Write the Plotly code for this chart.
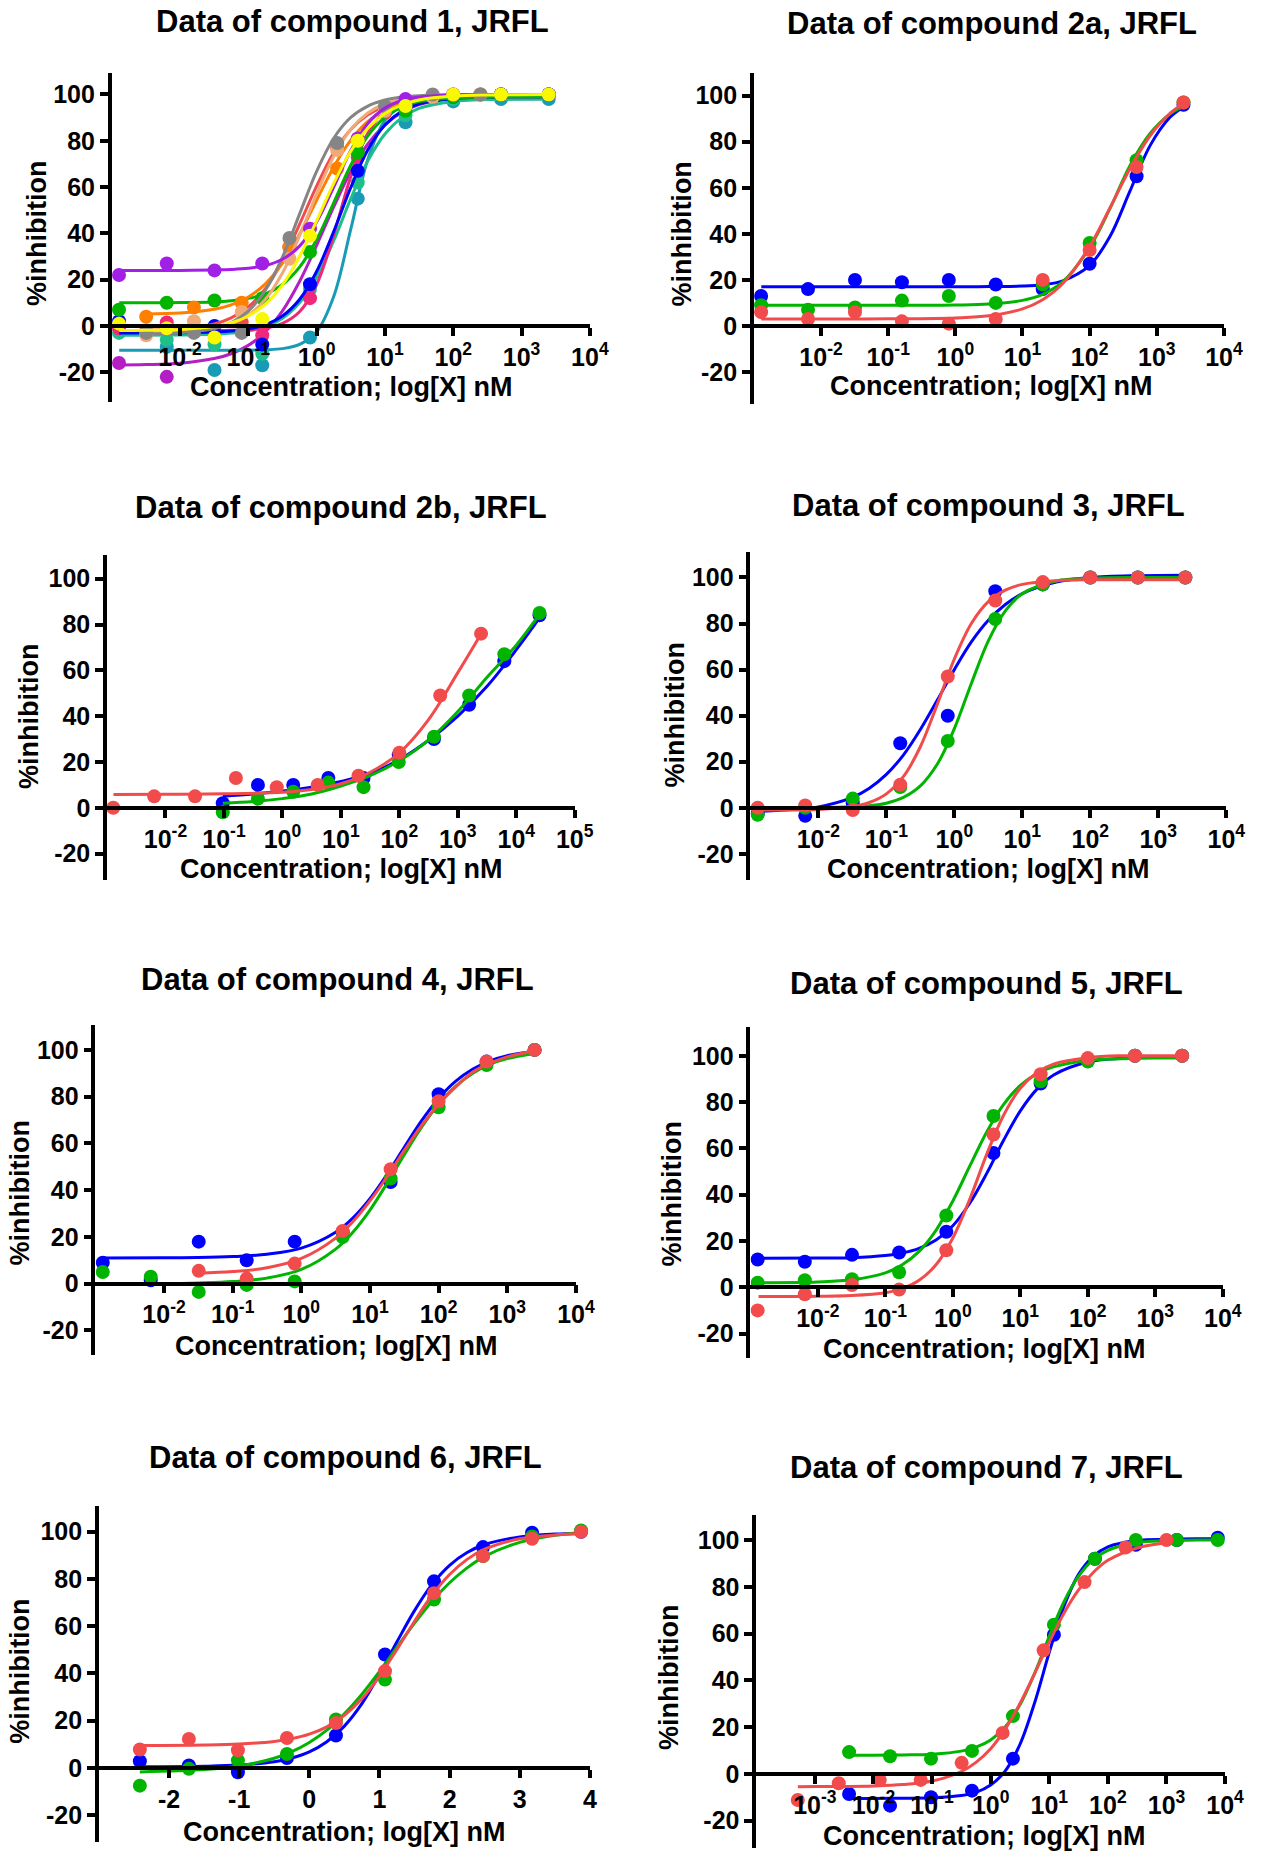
import plotly.graph_objects as go

FONT = "Liberation Sans, Arial, Helvetica, sans-serif"
W, H = 1279, 1852
S = W / 1083.0  # layout coordinates below were measured on a 1083-wide copy

# ------------------------------------------------------------------ colours
BLUE, GREEN, RED = "#0000ff", "#00b400", "#f24b4b"
PURPLE, MAGENTA, GRAY = "#a21fe6", "#b41fc4", "#858585"
ORANGE, PEACH, YELLOW = "#ff7f00", "#f0aa78", "#f8f800"
PINK, TEALGREEN, TEALBLUE = "#f0287a", "#1fbf8c", "#1a9bb5"

# ------------------------------------------------------------------ shared concentration series (nM)
conc_A = [0.00128, 0.0064, 0.032, 0.16, 0.8, 4, 20, 100, 500, 2500]
conc_B = [0.0032, 0.016, 0.08, 0.4, 2, 10, 50, 250]
conc_4fold = [0.0954, 0.381, 1.53, 6.10, 24.4, 97.7, 391, 1563, 6250, 25000]
conc_7500 = [0.00384, 0.0192, 0.096, 0.48, 2.4, 12, 60, 300, 1500, 7500]
conc_1000 = [0.000512, 0.00256, 0.0128, 0.064, 0.32, 1.6, 8, 40, 200, 1000]
log_7500 = [-2.416, -1.717, -1.018, -0.319, 0.380, 1.079, 1.778, 2.477, 3.176, 3.875]

# ------------------------------------------------------------------ compound 1
p1_purple = [22, 27, 24, 27, 42, 81, 98, 100, 100, 100]
p1_green = [7, 10, 11, 12, 32, 75, 93, 99, 100, 100]
p1_yellow = [1, -1, -5, 3, 39, 80, 95, 100, 100, 100]
p1_blue = [2, None, 0, -8, 18, 67, 95, 99, 100, 100]
p1_pink = [-1, 1.5, None, -4, 12, 73, 96, 99, 100, 100]
p1_tealgreen = [-3, -6, -8, -12, 16, 62, 91, 98, 100, 100]
p1_tealblue = [None, -9, -19, -17, -5, 55, 88, 97, 98, 98]
p1_magenta = [-16, -22, None, None, None, None, None, 100, 100, 100]
p1_gray = [-3, -3, -3, 38, 79, 95, 100, 100]
p1_orange = [4, 8, 10, 34, 68, 93, 99, 100]
p1_peach = [-4, 2, 6, 29, 76, 93, 99, 100]
p1_red = [-2, -1, 1.5, 34, 77, 92, 99, 100]

p1_fitA_logx = [-2.89, -2.5, -2, -1.5, -1.25, -1, -0.75, -0.5, -0.25, 0, 0.25, 0.5,
                0.75, 1, 1.25, 1.5, 2, 2.5, 3.4]
p1_fit_purple = [24, 24, 24, 24.2, 24.4, 24.9, 26.1, 28.8, 34.5, 44.9, 60, 75.8, 87.5, 94.1, 97.4, 98.9, 99.8, 100, 100]
p1_fit_green = [10, 10, 10.1, 10.4, 10.9, 11.9, 13.9, 17.9, 25.4, 37.3, 53.2, 69.4, 82.1, 90.1, 94.6, 96.9, 98.5, 98.9, 99]
p1_fit_yellow = [-2, -1.9, -1.5, -0.2, 1.4, 4.3, 9.4, 17.7, 30, 45.4, 61.6, 75.5, 85.4, 91.8, 95.5, 97.6, 99.3, 99.8, 100]
p1_fit_blue = [-3, -3, -2.9, -2.6, -2.2, -1.3, 0.5, 4.3, 11.4, 23.5, 40.8, 59.8, 76.1, 86.8, 92.9, 96, 98.3, 98.9, 99]
p1_fit_pink = [-2, -2, -2, -2, -1.9, -1.6, -0.9, 1.1, 6.1, 17.9, 39.3, 64.6, 83.2, 92.7, 96.7, 98.2, 98.9, 99, 99]
p1_fit_tealgreen = [-4, -4, -3.9, -3.6, -3.1, -2.2, -0.3, 3.3, 10, 21, 36.8, 55, 71.3, 82.9, 90, 94, 97, 97.8, 98]
p1_fit_tealblue = [-10.5, -10.5, -10.5, -10.5, -10.5, -10.5, -10.3, -9.8, -8, -2.5, 12.7, 41.8, 72, 88.8, 95.1, 97.1, 97.9, 98, 98]
p1_fit_magenta = [-16.9, -16.7, -16.1, -14.1, -12, -8.4, -2.5, 6.5, 19.2, 34.8, 51.4, 66.7, 78.6, 86.9, 92.3, 95.6, 98.6, 99.5, 100]

p1_fitB_logx = [-2.49, -2, -1.5, -1.25, -1, -0.75, -0.5, -0.25, 0, 0.25, 0.5, 0.75, 1, 1.25, 1.5, 2, 2.4]
p1_fit_gray = [-3.4, -2.95, -1.1, 1.4, 6.4, 15.4, 29.7, 48.3, 66.8, 81.1, 90.1, 95, 97.6, 98.9, 99.5, 100, 100]
p1_fit_orange = [5.2, 5.6, 7.2, 9.1, 12.5, 18.2, 27.1, 39.6, 54.3, 68.7, 80.3, 88.4, 93.4, 96.4, 98.1, 99.4, 99.8]
p1_fit_peach = [-2.9, -2.5, -1, 0.9, 4.7, 11.5, 22.9, 38.9, 57, 73.3, 85, 92, 96, 98, 99, 99.8, 100]
p1_fit_red = [-1.8, -1.2, 0.9, 3.5, 8.2, 16.1, 28.2, 43.9, 60.4, 74.8, 84.9, 91.2, 94.9, 96.9, 97.9, 98.7, 99]

# ------------------------------------------------------------------ compound 2a
p2_blue = [13, 16, 20, 19, 20, 18, 16, 27, 65, 96]
p2_green = [9, 7, 8, 11, 13, 10, 18, 36, 72, 97]
p2_red = [6, 3, 6, 2, 1, 3, 20, 33, 69, 97]
p2_fit_logx = [-2.89, -2, -1, 0, 0.5, 1.0, 1.3, 1.6, 2.0, 2.3, 2.6, 2.9, 3.2, 3.4]
p2_fit_blue = [17, 17, 17, 17, 17.1, 17.3, 17.9, 19.6, 26.3, 38.7, 58.5, 78.3, 90.7, 95.1]
p2_fit_green = [9, 9, 9, 9.1, 9.5, 11.1, 13.7, 19.2, 34, 50.8, 69.6, 83.6, 92.1, 95.3]
p2_fit_red = [3, 3, 3.1, 3.5, 4.4, 7.4, 11.4, 18.4, 34.5, 51.1, 68.3, 82.6, 92.4, 96.6]

# ------------------------------------------------------------------ compound 2b
p3_red = [0, 5, 5, 13, 9, 10, 14, 24, 49, 76]
p3_blue = [2, 10, 10, 13, 13, 23, 30, 45, 64, 84]
p3_green = [-2, 4, 7, 11, 9, 20, 31, 49, 67, 85]
p3_fit_red_logx = [-2.89, -2, -1, 0, 0.5, 1.0, 1.5, 2.0, 2.5, 3.0, 3.4]
p3_fit_red = [5.8, 5.9, 6.1, 6.8, 8, 10.5, 15.5, 24, 38.5, 59, 76]
p3_fit_bg_logx = [-1.02, -0.5, 0, 0.5, 1.0, 1.5, 2.0, 2.5, 3.0, 3.5, 4.0, 4.4]
p3_fit_blue = [5, 6, 7.3, 9, 11.5, 15, 21, 29.5, 40, 53, 69, 83]
p3_fit_green = [2, 2.7, 4, 6, 9.5, 14, 20.5, 29.5, 42, 57, 71, 84.5]

# ------------------------------------------------------------------ compound 3
p4_blue = [-2.5, -3.5, 2, 28, 40, 94, 97, 100, 100, 100]
p4_green = [-3, 0, 4, 9, 29, 82, 97, 100, 100, 100]
p4_red = [0, 1, -1, 10, 57, 90, 98, 100, 100, 100]
p4_fit_logx = [-2.89, -2, -1.5, -1.25, -1, -0.75, -0.5, -0.25, 0, 0.25, 0.5, 0.75, 1, 1.5, 2, 2.7, 3.4]
p4_fit_blue = [-1.6, 0.4, 4.5, 8.5, 14.5, 22.9, 34, 46.8, 60, 72, 81.4, 88.3, 93, 98, 100, 100.8, 101]
p4_fit_green = [0, 0, 0.4, 0.9, 2, 4.5, 9.5, 19, 34.4, 54, 72.5, 85.5, 93, 98.5, 99.7, 100, 100]
p4_fit_red = [-1, -0.7, 0.5, 2.3, 6.05, 13.5, 26.5, 45, 64.6, 80, 89.5, 94.5, 97, 98.6, 99, 99, 99]

# ------------------------------------------------------------------ compound 4
p5_blue = [9, 1.5, 18, 10, 18, 22, 43.5, 81, 95, 100]
p5_green = [5, 3, -3.5, -0.5, 1, 20, 45, 75.5, 93.5, 100]
p5_red = [None, None, 5.5, 2.2, 8.6, 22.6, 49, 78, 95, 100]
p5_fit_logx = [-2.9, -2, -1.5, -1, -0.5, 0, 0.5, 0.75, 1, 1.25, 1.5, 1.75, 2, 2.25, 2.5, 2.75, 3, 3.39]
p5_fit_blue = [11, 11.1, 11.2, 11.6, 12.6, 15.2, 22, 28.1, 36.4, 46.8, 58.3, 69.6, 79.2, 86.6, 91.8, 95.3, 97.5, 99.4]
p5_fit_green = [0, 0, 0.3, 0.9, 2.4, 6.1, 14.8, 22, 31.5, 43, 55.2, 66.8, 76.8, 84.5, 90, 93.9, 96.3, 98.5]
p5_fit_red_logx = [-1.5, -1, -0.5, 0, 0.5, 0.75, 1, 1.25, 1.5, 1.75, 2, 2.25, 2.5, 2.75, 3, 3.39]
p5_fit_red = [4.5, 5.2, 6.8, 10.8, 19.5, 26.5, 35.4, 45.8, 57, 67.6, 76.8, 84.2, 90.5, 94.3, 97, 99.5]

# ------------------------------------------------------------------ compound 5
p6_blue = [12, 11, 14, 15, 24, 58, 88, 98, 100, 100]
p6_green = [2, 3, 3.5, 6.5, 31, 74, 89, 97.5, 100, 100]
p6_red = [-10, -3, 1, -1, 16, 66, 92, 99, 100, 100]
p6_fit_logx = [-2.88, -2, -1.5, -1, -0.75, -0.5, -0.25, 0, 0.25, 0.5, 0.75, 1, 1.25, 1.5, 2, 2.5, 3, 3.39]
p6_fit_blue = [12.5, 12.6, 12.8, 13.7, 14.8, 16.8, 20.4, 26.6, 36.3, 49.1, 63.4, 76.2, 85.7, 91.8, 97.3, 98.9, 99.4, 99.5]
p6_fit_green = [2, 2.3, 3.2, 6.2, 9.7, 15.5, 24.6, 37.3, 52.3, 67, 78.9, 87.2, 92.3, 95.3, 98, 98.7, 99, 99]
p6_fit_red = [-4, -3.9, -3.6, -2.4, -0.6, 3, 9.7, 21.3, 38, 57.3, 74.2, 86, 92.8, 96.5, 99.2, 100, 100, 100]

# ------------------------------------------------------------------ compound 6 (x already log10)
p7_blue = [2.8, 1, -1.8, 4.2, 13.7, 48, 79, 93.5, 99.6, 100]
p7_green = [-7.5, -0.4, 3.2, 5.9, 20.5, 37.4, 71.3, 89.7, 98, 100.5]
p7_red = [7.8, 12.3, 7.5, 12.7, 19, 41, 74, 89.7, 97, 100]
p7_fit_logx = [-2.416, -1.5, -1, -0.5, -0.25, 0, 0.25, 0.5, 0.75, 1, 1.25, 1.5, 1.75, 2, 2.25, 2.5, 3, 3.5, 3.875]
p7_fit_blue = [0.5, 0.7, 1.2, 2.6, 4.2, 6.8, 11.1, 17.7, 27.2, 39.6, 53.4, 66.6, 77.7, 85.8, 91.2, 94.6, 97.8, 99, 99.3]
p7_fit_green = [-1.7, -0.7, 0.8, 4.1, 6.9, 10.8, 16, 22.9, 31.2, 40.8, 51.1, 61.3, 70.6, 78.4, 84.7, 89.6, 95.5, 98.5, 99.6]
p7_fit_red = [9.5, 9.7, 10.1, 11.2, 12.4, 14.3, 17.4, 22.3, 29.3, 38.8, 50.2, 62.1, 73.1, 81.9, 88.3, 92.6, 97, 98.6, 99.1]

# ------------------------------------------------------------------ compound 7
p8_green = [9.3, 7.5, 6.5, 9.8, 24.7, 63.8, 92, 100, 100, 100]
p8_blue = [-8.6, -13.6, -10, -7.2, 6.5, 59.5, 92, 98, 100, 101]
p8_red = [-11.2, -4, -2.6, -2.6, 4.7, 17.5, 52.8, 82, 96.8, 100]
p8_fit_gb_logx = [-2.416, -2, -1.5, -1, -0.5, -0.25, 0, 0.25, 0.5, 0.75, 1, 1.25, 1.5, 1.75, 2, 2.5, 3, 3.5, 3.875]
p8_fit_blue = [-10.5, -10.5, -10.45, -10.25, -9.3, -7.9, -4.8, 1.3, 12.6, 30.4, 52, 71.6, 85.3, 93, 97.1, 99.8, 100.3, 100.5, 100.5]
p8_fit_green = [8, 8, 8.1, 8.4, 9.7, 11.4, 14.5, 20.1, 29.5, 43, 58.8, 73.5, 84.5, 91.6, 95.6, 98.9, 99.7, 100, 100]
p8_fit_red_logx = [-3.29, -3, -2.5, -2, -1.5, -1, -0.5, -0.25, 0, 0.25, 0.5, 0.75, 1, 1.25, 1.5, 1.75, 2, 2.5, 3]
p8_fit_red = [-5.5, -5.46, -5.4, -5.2, -4.6, -3.1, 1, 4.9, 10.7, 19.2, 30.1, 42.9, 56.3, 68.7, 78.7, 86.1, 91.3, 96.6, 98.8]

# ------------------------------------------------------------------ text
titles = ["Data of compound 1, JRFL", "Data of compound 2a, JRFL", "Data of compound 2b, JRFL",
          "Data of compound 3, JRFL", "Data of compound 4, JRFL", "Data of compound 5, JRFL",
          "Data of compound 6, JRFL", "Data of compound 7, JRFL"]
x_title = "Concentration; log[X] nM"
y_title = "%inhibition"
y_ticks = [-20, 0, 20, 40, 60, 80, 100]
pow_ticks = {-3: "10<sup>-3</sup>", -2: "10<sup>-2</sup>", -1: "10<sup>-1</sup>", 0: "10<sup>0</sup>",
             1: "10<sup>1</sup>", 2: "10<sup>2</sup>", 3: "10<sup>3</sup>", 4: "10<sup>4</sup>",
             5: "10<sup>5</sup>"}
lin_ticks = [-2, -1, 0, 1, 2, 3, 4]

# ------------------------------------------------------------------ panel layout (pixels on 1083 copy)
panels = [
    dict(xl=96, xr=507, top=62, bot=340, y0=276, y100=80, xr_=(-3, 4), log=True, ticks=[-2, -1, 0, 1, 2, 3, 4],
         title=(303, 18), xt=(302, 328), yt=(32, 198)),
    dict(xl=648, xr=1052, top=62, bot=342, y0=276, y100=81, xr_=(-3, 4), log=True, ticks=[-2, -1, 0, 1, 2, 3, 4],
         title=(853, 20), xt=(852, 327), yt=(586, 198)),
    dict(xl=92, xr=494, top=470, bot=745, y0=684, y100=490, xr_=(-3, 5), log=True, ticks=[-2, -1, 0, 1, 2, 3, 4, 5],
         title=(293, 430), xt=(293, 736), yt=(25, 607)),
    dict(xl=645, xr=1054, top=467, bot=745, y0=684, y100=489, xr_=(-3, 4), log=True, ticks=[-2, -1, 0, 1, 2, 3, 4],
         title=(850, 428), xt=(849, 736), yt=(581, 605)),
    dict(xl=82, xr=495, top=868, bot=1147, y0=1087, y100=889, xr_=(-3, 4), log=True, ticks=[-2, -1, 0, 1, 2, 3, 4],
         title=(290, 829), xt=(289, 1140), yt=(17, 1010)),
    dict(xl=645, xr=1051, top=870, bot=1150, y0=1090, y100=894, xr_=(-3, 4), log=True, ticks=[-2, -1, 0, 1, 2, 3, 4],
         title=(848, 833), xt=(846, 1142), yt=(578, 1011)),
    dict(xl=85, xr=507, top=1275, bot=1560, y0=1497, y100=1297, xr_=(-3, 4), log=False, ticks=lin_ticks,
         title=(297, 1234), xt=(296, 1551), yt=(17, 1415)),
    dict(xl=650, xr=1053, top=1283, bot=1565, y0=1502, y100=1304, xr_=(-4, 4), log=True,
         ticks=[-3, -2, -1, 0, 1, 2, 3, 4], title=(848, 1243), xt=(846, 1555), yt=(575, 1420)),
]

fig = go.Figure()
MS = 14
LW = 3


def tlog(v):
    return [10 ** a for a in v]


def add(i, xp, yp, xf, yf, color):
    xa = "x" if i == 1 else f"x{i}"
    ya = "y" if i == 1 else f"y{i}"
    fig.add_trace(go.Scatter(x=xf, y=yf, mode="lines", xaxis=xa, yaxis=ya, showlegend=False,
                             line=dict(color=color, width=LW, shape="spline", smoothing=1.0),
                             hoverinfo="skip"))
    fig.add_trace(go.Scatter(x=xp, y=yp, mode="markers", xaxis=xa, yaxis=ya, showlegend=False,
                             marker=dict(color=color, size=MS, line=dict(width=0))))


# panel 1 (draw order bottom -> top)
A1, B1 = tlog(p1_fitA_logx), tlog(p1_fitB_logx)
add(1, conc_A, p1_magenta, A1, p1_fit_magenta, MAGENTA)
add(1, conc_A, p1_tealblue, A1, p1_fit_tealblue, TEALBLUE)
add(1, conc_A, p1_tealgreen, A1, p1_fit_tealgreen, TEALGREEN)
add(1, conc_A, p1_pink, A1, p1_fit_pink, PINK)
add(1, conc_A, p1_blue, A1, p1_fit_blue, BLUE)
add(1, conc_B, p1_red, B1, p1_fit_red, RED)
add(1, conc_A, p1_green, A1, p1_fit_green, GREEN)
add(1, conc_B, p1_orange, B1, p1_fit_orange, ORANGE)
add(1, conc_B, p1_peach, B1, p1_fit_peach, PEACH)
add(1, conc_B, p1_gray, B1, p1_fit_gray, GRAY)
add(1, conc_A, p1_purple, A1, p1_fit_purple, PURPLE)
add(1, conc_A, p1_yellow, A1, p1_fit_yellow, YELLOW)

# panel 2
add(2, conc_A, p2_blue, tlog(p2_fit_logx), p2_fit_blue, BLUE)
add(2, conc_A, p2_green, tlog(p2_fit_logx), p2_fit_green, GREEN)
add(2, conc_A, p2_red, tlog(p2_fit_logx), p2_fit_red, RED)

# panel 3
add(3, conc_4fold, p3_blue, tlog(p3_fit_bg_logx), p3_fit_blue, BLUE)
add(3, conc_4fold, p3_green, tlog(p3_fit_bg_logx), p3_fit_green, GREEN)
add(3, conc_A, p3_red, tlog(p3_fit_red_logx), p3_fit_red, RED)

# panel 4
add(4, conc_A, p4_blue, tlog(p4_fit_logx), p4_fit_blue, BLUE)
add(4, conc_A, p4_green, tlog(p4_fit_logx), p4_fit_green, GREEN)
add(4, conc_A, p4_red, tlog(p4_fit_logx), p4_fit_red, RED)

# panel 5
add(5, conc_A, p5_blue, tlog(p5_fit_logx), p5_fit_blue, BLUE)
add(5, conc_A, p5_green, tlog(p5_fit_logx), p5_fit_green, GREEN)
add(5, conc_A, p5_red, tlog(p5_fit_red_logx), p5_fit_red, RED)

# panel 6
add(6, conc_A, p6_blue, tlog(p6_fit_logx), p6_fit_blue, BLUE)
add(6, conc_A, p6_green, tlog(p6_fit_logx), p6_fit_green, GREEN)
add(6, conc_A, p6_red, tlog(p6_fit_logx), p6_fit_red, RED)

# panel 7 (linear log10 axis)
add(7, log_7500, p7_blue, p7_fit_logx, p7_fit_blue, BLUE)
add(7, log_7500, p7_green, p7_fit_logx, p7_fit_green, GREEN)
add(7, log_7500, p7_red, p7_fit_logx, p7_fit_red, RED)

# panel 8
add(8, conc_7500, p8_blue, tlog(p8_fit_gb_logx), p8_fit_blue, BLUE)
add(8, conc_7500, p8_green, tlog(p8_fit_gb_logx), p8_fit_green, GREEN)
add(8, conc_1000, p8_red, tlog(p8_fit_red_logx), p8_fit_red, RED)

# ------------------------------------------------------------------ axes & annotations
tickfont = dict(family=FONT, size=25, color="black", weight="bold")
annotations = []
layout_axes = {}
for i, P in enumerate(panels, start=1):
    xl, xr = P["xl"] * S, P["xr"] * S
    top, bot = P["top"] * S, P["bot"] * S
    y0, y100 = P["y0"] * S, P["y100"] * S
    k = (y0 - y100) / 100.0
    ymax = (y0 - top) / k
    ymin = (y0 - bot) / k
    xkey = "xaxis" if i == 1 else f"xaxis{i}"
    ykey = "yaxis" if i == 1 else f"yaxis{i}"
    xa = dict(domain=[xl / W, xr / W], range=list(P["xr_"]), anchor="free", position=1 - y0 / H,
              showline=True, linecolor="black", linewidth=3.5, ticks="outside", ticklen=8, tickwidth=3.5,
              tickcolor="black", showgrid=False, zeroline=False, tickfont=tickfont, fixedrange=True)
    if P["log"]:
        xa["type"] = "log"
        xa["tickvals"] = [10 ** t for t in P["ticks"]]
        xa["ticktext"] = [pow_ticks[t] for t in P["ticks"]]
    else:
        xa["type"] = "linear"
        xa["tickvals"] = P["ticks"]
        xa["ticktext"] = [str(t) for t in P["ticks"]]
    ya = dict(domain=[1 - bot / H, 1 - top / H], range=[ymin, ymax], anchor="x" if i == 1 else f"x{i}",
              showline=True, linecolor="black", linewidth=3.5, ticks="outside", ticklen=8, tickwidth=3.5,
              tickcolor="black", showgrid=False, zeroline=False, tickvals=y_ticks,
              ticktext=[str(t) for t in y_ticks], tickfont=tickfont, fixedrange=True)
    layout_axes[xkey] = xa
    layout_axes[ykey] = ya

    tx, ty = P["title"]
    annotations.append(dict(text=titles[i - 1], x=tx * S / W, y=1 - ty * S / H, xref="paper", yref="paper",
                            xanchor="center", yanchor="middle", showarrow=False,
                            font=dict(family=FONT, size=31, color="black", weight="bold")))
    cx, cy = P["xt"]
    annotations.append(dict(text=x_title, x=cx * S / W, y=1 - cy * S / H, xref="paper", yref="paper",
                            xanchor="center", yanchor="middle", showarrow=False,
                            font=dict(family=FONT, size=27, color="black", weight="bold")))
    yx, yy = P["yt"]
    annotations.append(dict(text=y_title, x=yx * S / W, y=1 - yy * S / H, xref="paper", yref="paper",
                            xanchor="center", yanchor="middle", showarrow=False, textangle=-90,
                            font=dict(family=FONT, size=27, color="black", weight="bold")))

fig.update_layout(width=W, height=H, margin=dict(l=0, r=0, t=0, b=0), paper_bgcolor="white",
                  plot_bgcolor="white", showlegend=False, annotations=annotations, **layout_axes)

fig.write_html("out.html", include_plotlyjs=True, config=dict(displayModeBar=False))
